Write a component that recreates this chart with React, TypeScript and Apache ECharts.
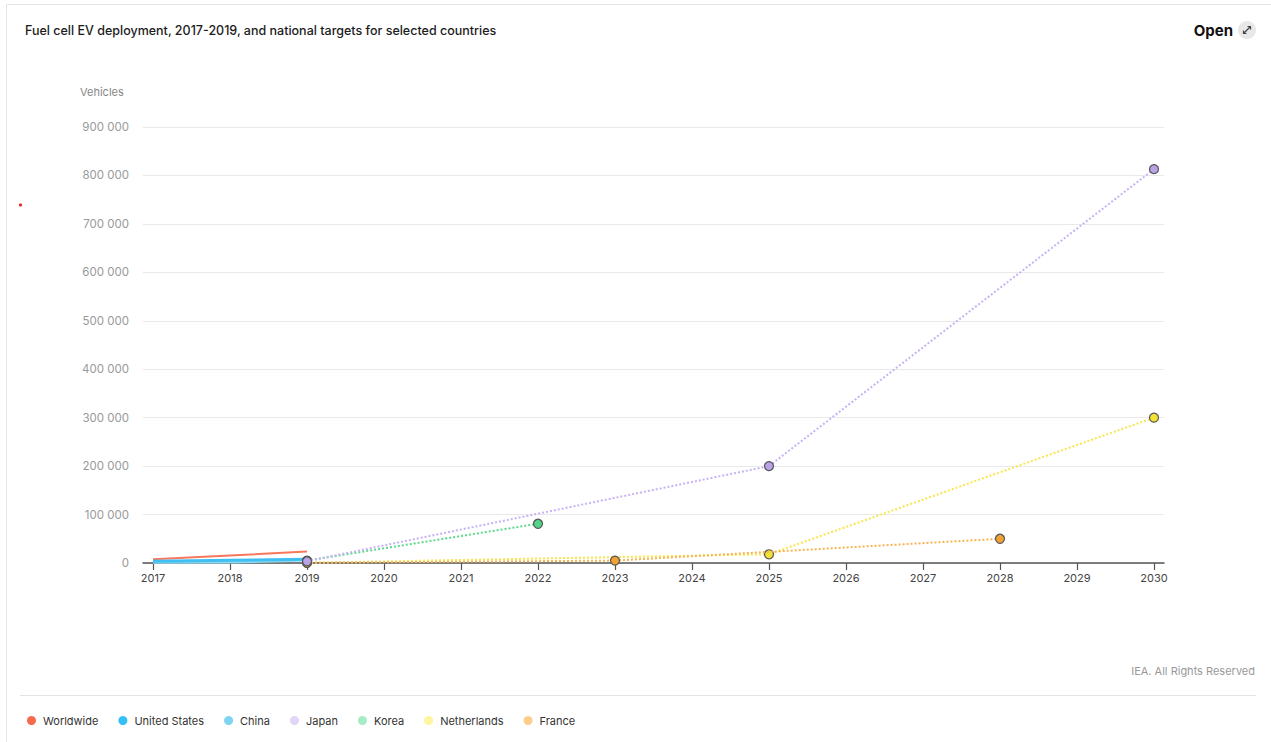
import React, { useEffect, useRef } from "react";
import * as echarts from "echarts";

// Historical stock (solid lines)
const historyYears = [2017, 2018, 2019];
const worldwideValues = [7500, 15500, 23500];
const unitedStatesValues = [3500, 5500, 7500];
const chinaValues = [1300, 2000, 6000];

// National targets (dotted lines, starting from the 2019 stock)
const japanYears = [2019, 2025, 2030];
const japanValues = [3600, 200000, 813000];
const koreaYears = [2019, 2022];
const koreaValues = [5000, 81000];
const netherlandsYears = [2019, 2025, 2030];
const netherlandsValues = [400, 18000, 300000];
const franceYears = [2019, 2023, 2028];
const franceValues = [400, 5000, 50000];

const yearTicks = [2017, 2018, 2019, 2020, 2021, 2022, 2023, 2024, 2025, 2026, 2027, 2028, 2029, 2030];

const legendNames = ["Worldwide", "United States", "China", "Japan", "Korea", "Netherlands", "France"];
const legendColors = ["#f46a4c", "#36bff4", "#7fd4f1", "#e1d5f8", "#a6ecc6", "#fdf59f", "#fdcd8c"];

const FONT = "Inter, 'Noto Sans', sans-serif";

const pairs = (xs: number[], ys: number[]) => xs.map((x, i) => [x, ys[i]]);

const fmt = (v: number) => String(v).replace(/\B(?=(\d{3})+(?!\d))/g, " ");

function solid(name: string, color: string, width: number, values: number[]) {
  return {
    name,
    type: "line",
    data: pairs(historyYears, values),
    showSymbol: false,
    symbol: "none",
    lineStyle: { color, width, type: "solid" },
    itemStyle: { color },
    emphasis: { disabled: true },
    z: 2,
  };
}

function target(name: string, lineColor: string, markerColor: string, xs: number[], ys: number[], z: number) {
  return {
    name,
    type: "line",
    data: pairs(xs, ys),
    symbol: "circle",
    symbolSize: 9,
    showSymbol: true,
    lineStyle: { color: lineColor, width: 2, type: [2, 2] },
    itemStyle: { color: markerColor, borderColor: "#555", borderWidth: 1.2 },
    emphasis: { disabled: true },
    z,
  };
}

export default function App() {
  const ref = useRef<HTMLDivElement>(null);

  useEffect(() => {
    if (!ref.current) return;
    const chart = echarts.init(ref.current, null, { renderer: "svg" });

    chart.setOption({
      animation: false,
      textStyle: { fontFamily: FONT },
      grid: { left: 143, right: 107, top: 127, bottom: 179, containLabel: false },
      xAxis: {
        type: "value",
        min: 2016.87,
        max: 2030.13,
        axisLine: { show: true, lineStyle: { color: "#555", width: 1.5 } },
        axisTick: { show: true, length: 7, customValues: yearTicks, lineStyle: { color: "#555", width: 1.2 } },
        axisLabel: {
          customValues: yearTicks,
          color: "#444",
          fontSize: 11,
          margin: 9,
          fontFamily: FONT,
          formatter: (v: number) => String(Math.round(v)),
        },
        splitLine: { show: false },
      },
      yAxis: {
        type: "value",
        min: 0,
        max: 900000,
        interval: 100000,
        axisLine: { show: false },
        axisTick: { show: false },
        axisLabel: { color: "#999", fontSize: 11.5, margin: 14, fontFamily: FONT, formatter: (v: number) => fmt(v) },
        splitLine: { lineStyle: { color: "#e9e9e9", width: 1 } },
      },
      legend: {
        left: 22,
        top: 710,
        icon: "circle",
        itemWidth: 9,
        itemHeight: 9,
        itemGap: 20,
        textStyle: { color: "#333", fontSize: 11, fontFamily: FONT, padding: [0, 0, 0, 2] },
        data: legendNames.map((n, i) => ({ name: n, itemStyle: { color: legendColors[i], borderWidth: 0 } })),
        selectedMode: false,
      },
      series: [
        solid("Worldwide", "#f8785d", 2, worldwideValues),
        solid("China", "#8bd9f3", 3, chinaValues),
        solid("United States", "#3fbff2", 3, unitedStatesValues),
        target("Netherlands", "#f8e64c", "#f2e236", netherlandsYears, netherlandsValues, 3),
        target("France", "#f8b250", "#f0a232", franceYears, franceValues, 4),
        target("Korea", "#5cd98b", "#52d488", koreaYears, koreaValues, 5),
        target("Japan", "#c7b2f4", "#b9a3e6", japanYears, japanValues, 6),
      ],
      graphic: [
        {
          type: "rect",
          silent: true,
          shape: { x: 6.5, y: 4.5, width: 1300, height: 800 },
          style: { fill: "none", stroke: "#e4e4e4", lineWidth: 1 },
        },
        {
          type: "text",
          x: 25,
          y: 30,
          style: {
            text: "Fuel cell EV deployment, 2017-2019, and national targets for selected countries",
            fill: "#1c1c1c",
            fontSize: 12.5,
            fontWeight: 500,
            fontFamily: FONT,
            verticalAlign: "middle",
          },
        },
        {
          type: "text",
          x: 1233,
          y: 30,
          style: {
            text: "Open",
            fill: "#111",
            fontSize: 15,
            fontWeight: 700,
            fontFamily: FONT,
            align: "right",
            verticalAlign: "middle",
          },
        },
        { type: "circle", shape: { cx: 1247, cy: 30, r: 9 }, style: { fill: "#e8e8e8" } },
        { type: "line", shape: { x1: 1243.5, y1: 33.5, x2: 1250.5, y2: 26.5 }, style: { stroke: "#444", lineWidth: 1.2 } },
        {
          type: "polyline",
          shape: { points: [[1247.5, 26.5], [1250.5, 26.5], [1250.5, 29.5]] },
          style: { stroke: "#444", lineWidth: 1.2, fill: "none" },
        },
        {
          type: "polyline",
          shape: { points: [[1243.5, 30.5], [1243.5, 33.5], [1246.5, 33.5]] },
          style: { stroke: "#444", lineWidth: 1.2, fill: "none" },
        },
        {
          type: "text",
          x: 80,
          y: 92,
          style: { text: "Vehicles", fill: "#888", fontSize: 11, fontFamily: FONT, verticalAlign: "middle" },
        },
        { type: "circle", shape: { cx: 20.5, cy: 205, r: 1.6 }, style: { fill: "#e52b2b" } },
        {
          type: "text",
          x: 1255,
          y: 671,
          style: {
            text: "IEA. All Rights Reserved",
            fill: "#999",
            fontSize: 11,
            fontFamily: FONT,
            align: "right",
            verticalAlign: "middle",
          },
        },
        {
          type: "line",
          shape: { x1: 20, y1: 695.5, x2: 1256, y2: 695.5 },
          style: { stroke: "#e3e3e3", lineWidth: 1 },
        },
      ],
    });

    return () => chart.dispose();
  }, []);

  return (
    <div
      ref={ref}
      style={{ position: "fixed", left: 0, top: 0, width: 1271, height: 742, background: "#fff" }}
    />
  );
}
